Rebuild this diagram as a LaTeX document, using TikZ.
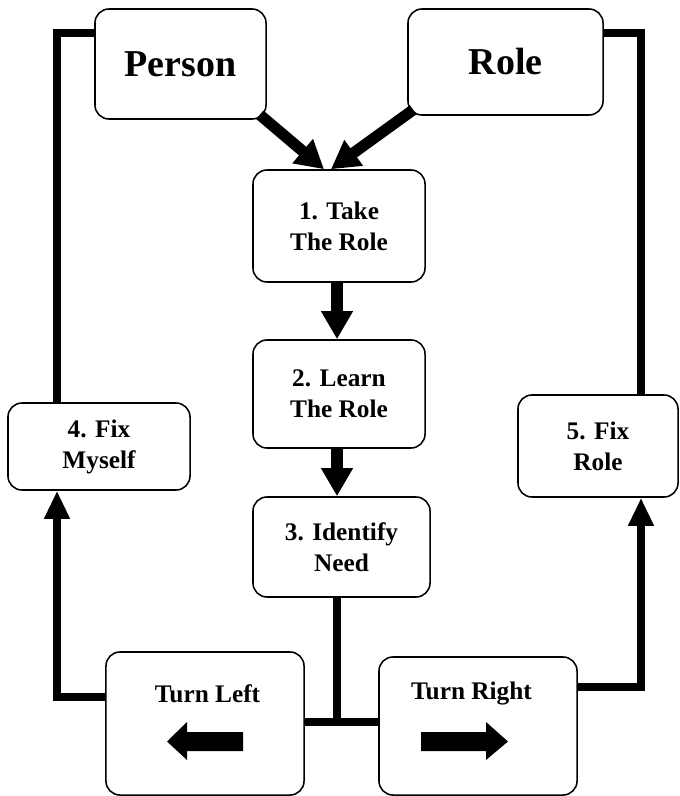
\documentclass[tikz,border=0pt]{standalone}
\usepackage{fontspec}
\setmainfont{Liberation Serif}
\usetikzlibrary{arrows.meta,calc}

\begin{document}
\begin{tikzpicture}[x=0.025cm,y=-0.025cm,
        box/.style={draw,line width=1.1pt,rounded corners=0.35cm,align=center,inner sep=0pt,font=\fontsize{18}{22}\selectfont\bfseries},
        bigbox/.style={box,font=\fontsize{27}{32}\selectfont\bfseries},
        flow/.style={line width=0.28cm,-{Triangle[width=0.75cm,length=0.7cm]}},
        loopline/.style={line width=0.22cm},
        looparrow/.style={loopline,-{Triangle[width=0.6cm,length=0.7cm]}}]
    \useasboundingbox (0,0) rectangle (679,796);
    \node[bigbox,minimum width=4.275cm,minimum height=2.75cm] (person) at (180.5,64) {Person};
    \node[bigbox,minimum width=4.875cm,minimum height=2.65cm] (role) at (505.5,62) {Role};
    \node[box,minimum width=4.3cm,minimum height=2.8cm] (take) at (339,226) {1. Take\\The Role};
    \node[box,minimum width=4.3cm,minimum height=2.7cm] (learn) at (339,394) {2. Learn\\The Role};
    \node[box,minimum width=4.425cm,minimum height=2.5cm] (need) at (341.5,547) {3. Identify\\Need};
    \node[box,minimum width=4.55cm,minimum height=2.175cm] (fixme) at (99,446.5) {4. Fix\\Myself};
    \node[box,minimum width=4cm,minimum height=2.55cm] (fixrole) at (598,446) {5. Fix\\Role};
    \node[box,minimum width=4.95cm,minimum height=3.575cm] (tleft) at (205,723.5) {};
    \node[box,minimum width=4.95cm,minimum height=3.45cm] (tright) at (478,726) {};
    \node[box,draw=none] (tleftlbl) at (207.5,694) {Turn Left};
    \node[box,draw=none] (trightlbl) at (471.5,694) {Turn Right};
    \fill (167,741.5) -- (187,722) -- (187,732) -- (243,732) -- (243,751) -- (187,751) -- (187,760) -- cycle;
    \fill (508,741.5) -- (486,722) -- (486,732) -- (421,732) -- (421,751) -- (486,751) -- (486,760) -- cycle;
    \coordinate (lt) at (57,33);
    \coordinate (lb) at (57,697);
    \coordinate (rt) at (641,33);
    \coordinate (rb) at (641,687);
    \coordinate (tj) at (337,722);
    \draw[flow] ($(person.south east)+(-7,-5)$) -- ($(take.north)+(-15,0)$);
    \draw[flow] ($(role.south west)+(6,-6)$) -- ($(take.north)+(-8,0)$);
    \draw[flow] (take.south -| tj) -- (learn.north -| tj);
    \draw[flow] (learn.south -| tj) -- (need.north -| tj);
    \draw[loopline] (need.south -| tj) -- (tj);
    \draw[loopline] (tleft.east |- tj) -- (tright.west |- tj);
    \draw[loopline] (person.west |- lt) -- (lt) -- (lt |- fixme.north);
    \draw[looparrow] (tleft.west |- lb) -- (lb) -- (lb |- fixme.south);
    \draw[loopline] (role.east |- rt) -- (rt) -- (rt |- fixrole.north);
    \draw[looparrow] (tright.east |- rb) -- (rb) -- (rb |- fixrole.south);
\end{tikzpicture}
\end{document}
